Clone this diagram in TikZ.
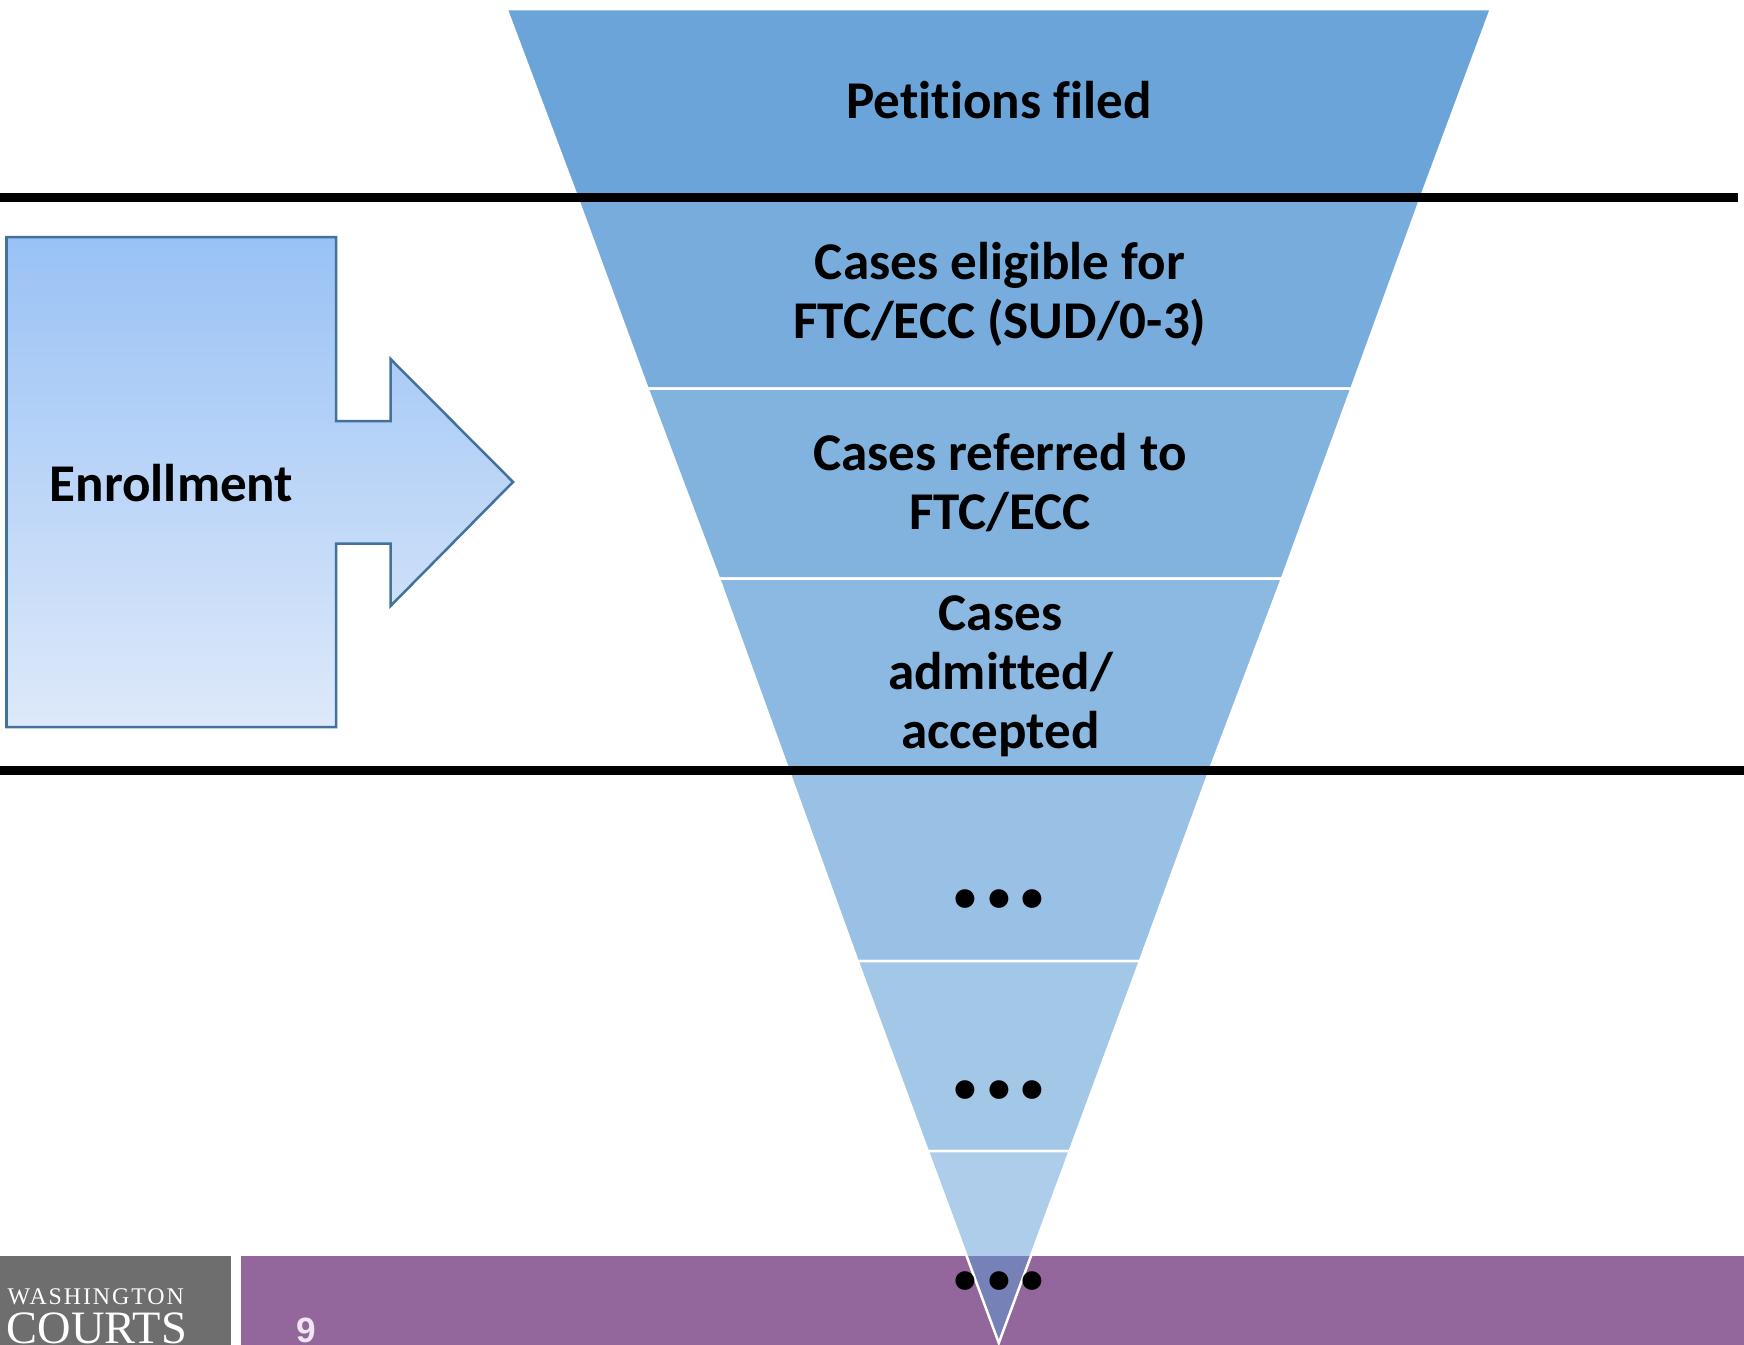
\documentclass[tikz,border=0pt]{standalone}
\usepackage{fontspec}
\setmainfont[Ligatures=NoCommon]{Carlito}
\newfontfamily\logofont[LetterSpace=8]{Liberation Serif}
\newfontfamily\logobigfont{Liberation Serif}
\newfontfamily\pagefont{Liberation Sans}
\definecolor{funnelblue}{HTML}{5B9BD5}
\definecolor{footpurple}{HTML}{93679B}
\definecolor{footgrey}{HTML}{6E6E6E}
\definecolor{arrowline}{HTML}{41719C}
\definecolor{arrowtop}{HTML}{99C2F5}
\definecolor{arrowbottom}{HTML}{DEE9FA}
\definecolor{pagewhite}{HTML}{F0E6F2}
\tikzset{
    seg/.style={fill=funnelblue, draw=white, line width=0.025cm},
    lbl/.style={align=center, inner sep=0pt, font=\fontsize{15.1}{16.75}\selectfont\bfseries},
    dots/.style={anchor=base, inner sep=0pt, font=\fontsize{36}{36}\selectfont\bfseries},
    rule/.style={line width=0.09cm, black}
}

\begin{document}
\begin{tikzpicture}[x=0.01cm, y=-0.01cm]
            \useasboundingbox (0,0) rectangle (1744,1345);

            \fill[footgrey] (0,1256) rectangle (231,1345);
            \fill[footpurple] (241,1256) rectangle (1744,1345);

            \draw[seg, fill opacity=0.91] (506.5,9) -- (1491,9) -- (1421.5,196) -- (576.7,196) -- cycle;
            \draw[seg, fill opacity=0.83] (576.7,196) -- (1421.5,196) -- (1351.5,388.5) -- (647.5,388.5) -- cycle;
            \draw[seg, fill opacity=0.76] (647.5,388.5) -- (1351.5,388.5) -- (1282,578.5) -- (719,578.5) -- cycle;
            \draw[seg, fill opacity=0.70] (719,578.5) -- (1282,578.5) -- (1210.2,769) -- (788,769) -- cycle;
            \draw[seg, fill opacity=0.62] (788,769) -- (1210.2,769) -- (1140,961) -- (857.5,961) -- cycle;
            \draw[seg, fill opacity=0.56] (857.5,961) -- (1140,961) -- (1069.8,1151) -- (927.7,1151) -- cycle;
            \draw[seg, fill opacity=0.50] (927.7,1151) -- (1069.8,1151) -- (998.8,1343) -- cycle;

            \coordinate (L1) at (0,197);
            \coordinate (R1) at (1738,197);
            \coordinate (L2) at (0,770);
            \coordinate (R2) at (1744,770);
            \draw[rule] (L1) -- (R1);
            \draw[rule] (L2) -- (R2);

            \draw[arrowline, line width=0.025cm, top color=arrowtop, bottom color=arrowbottom]
                (6.5,237) -- (336,237) -- (336,421) -- (390.5,421) -- (390.5,359) -- (513,482)
                -- (390.5,606) -- (390.5,543.5) -- (336,543.5) -- (336,727) -- (6.5,727) -- cycle;

            \node[lbl] (enroll) at (171.5,483) {Enrollment};
            \node[lbl] (filed) at (999,100) {Petitions filed};
            \node[lbl] (eligible) at (1000,294) {Cases eligible for\\FTC/ECC (SUD/0-3)};
            \node[lbl] (referred) at (1000,483) {Cases referred to\\FTC/ECC};
            \node[lbl] (admitted) at (1000.5,676.5) {Cases\\admitted/\\accepted};
            \node[dots] (dotsA) at (999,907) {...};
            \node[dots] (dotsB) at (999,1098) {...};
            \node[dots] (dotsC) at (999,1289) {...};

            \node[anchor=base west, inner sep=0pt, text=white, font=\logofont\fontsize{6.8}{7}\selectfont] (wash) at (7,1304) {WASHINGTON};
            \node[anchor=base west, inner sep=0pt, text=white, font=\logobigfont\fontsize{13.2}{13}\selectfont] (courts) at (6,1343) {COURTS};
            \node[anchor=base, inner sep=0pt, text=pagewhite, font=\pagefont\fontsize{10}{12}\selectfont\bfseries] (page) at (306,1342) {9};
        \end{tikzpicture}
\end{document}
